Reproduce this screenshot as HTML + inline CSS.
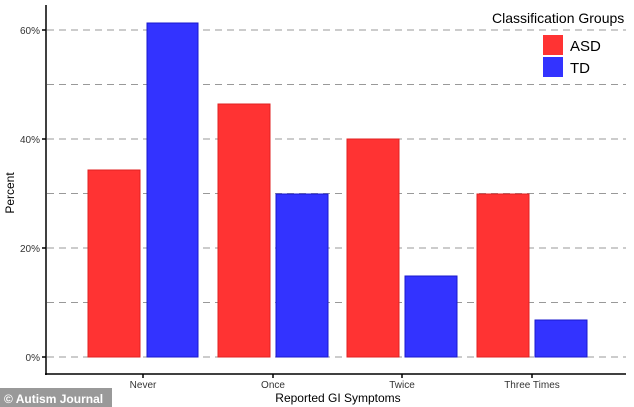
<!DOCTYPE html><html><head><style>body{margin:0;background:#fff}svg{display:block;font-family:"Liberation Sans",sans-serif}</style></head><body>
<svg width="634" height="407" viewBox="0 0 634 407">
<g stroke="#999" stroke-dasharray="7,5" stroke-width="1">
<line x1="47" x2="626" y1="30" y2="30"/><line x1="47" x2="626" y1="84.5" y2="84.5"/><line x1="47" x2="626" y1="139" y2="139"/><line x1="47" x2="626" y1="193.5" y2="193.5"/><line x1="47" x2="626" y1="248" y2="248"/><line x1="47" x2="626" y1="302.5" y2="302.5"/><line x1="47" x2="626" y1="357" y2="357"/>
</g>
<g fill="#ff3333" stroke="#e02020"><rect x="88" y="170" width="52" height="187"/><rect x="218" y="104" width="52" height="253"/><rect x="347" y="139" width="52" height="218"/><rect x="477" y="194" width="52" height="163"/></g>
<g fill="#3333ff" stroke="#1a1acc"><rect x="147" y="23" width="51" height="334"/><rect x="276" y="194" width="52" height="163"/><rect x="405" y="276" width="52" height="81"/><rect x="535" y="320" width="52" height="37"/></g>
<g stroke="#000" stroke-width="1.5"><line x1="46" y1="5" x2="46" y2="375"/><line x1="45" y1="374" x2="626" y2="374"/>
<line x1="143" y1="374" x2="143" y2="378"/><line x1="273" y1="374" x2="273" y2="378"/><line x1="402" y1="374" x2="402" y2="378"/><line x1="532" y1="374" x2="532" y2="378"/>
<line x1="42" y1="30" x2="46" y2="30"/><line x1="42" y1="139" x2="46" y2="139"/><line x1="42" y1="248" x2="46" y2="248"/><line x1="42" y1="357" x2="46" y2="357"/></g>
<g font-size="10" fill="#333" text-anchor="end"><text x="40" y="34">60%</text><text x="40" y="143">40%</text><text x="40" y="252">20%</text><text x="40" y="361">0%</text></g>
<g font-size="10" fill="#333" text-anchor="middle"><text x="143" y="388">Never</text><text x="273" y="388">Once</text><text x="402" y="388">Twice</text><text x="532" y="388">Three Times</text></g>
<text x="338" y="402" font-size="12" text-anchor="middle">Reported GI Symptoms</text>
<text transform="translate(14,193) rotate(-90)" font-size="12" text-anchor="middle">Percent</text>
<text x="492" y="23" font-size="14">Classification Groups</text>
<rect x="543" y="35" width="20" height="20" fill="#ff3333"/><text x="570" y="51" font-size="15">ASD</text>
<rect x="543" y="57" width="20" height="20" fill="#3333ff"/><text x="570" y="73" font-size="15">TD</text>
<rect x="0" y="388" width="112" height="19" fill="#999"/><text x="4" y="403" font-size="12" font-weight="bold" fill="#fff">© Autism Journal</text>
</svg></body></html>
